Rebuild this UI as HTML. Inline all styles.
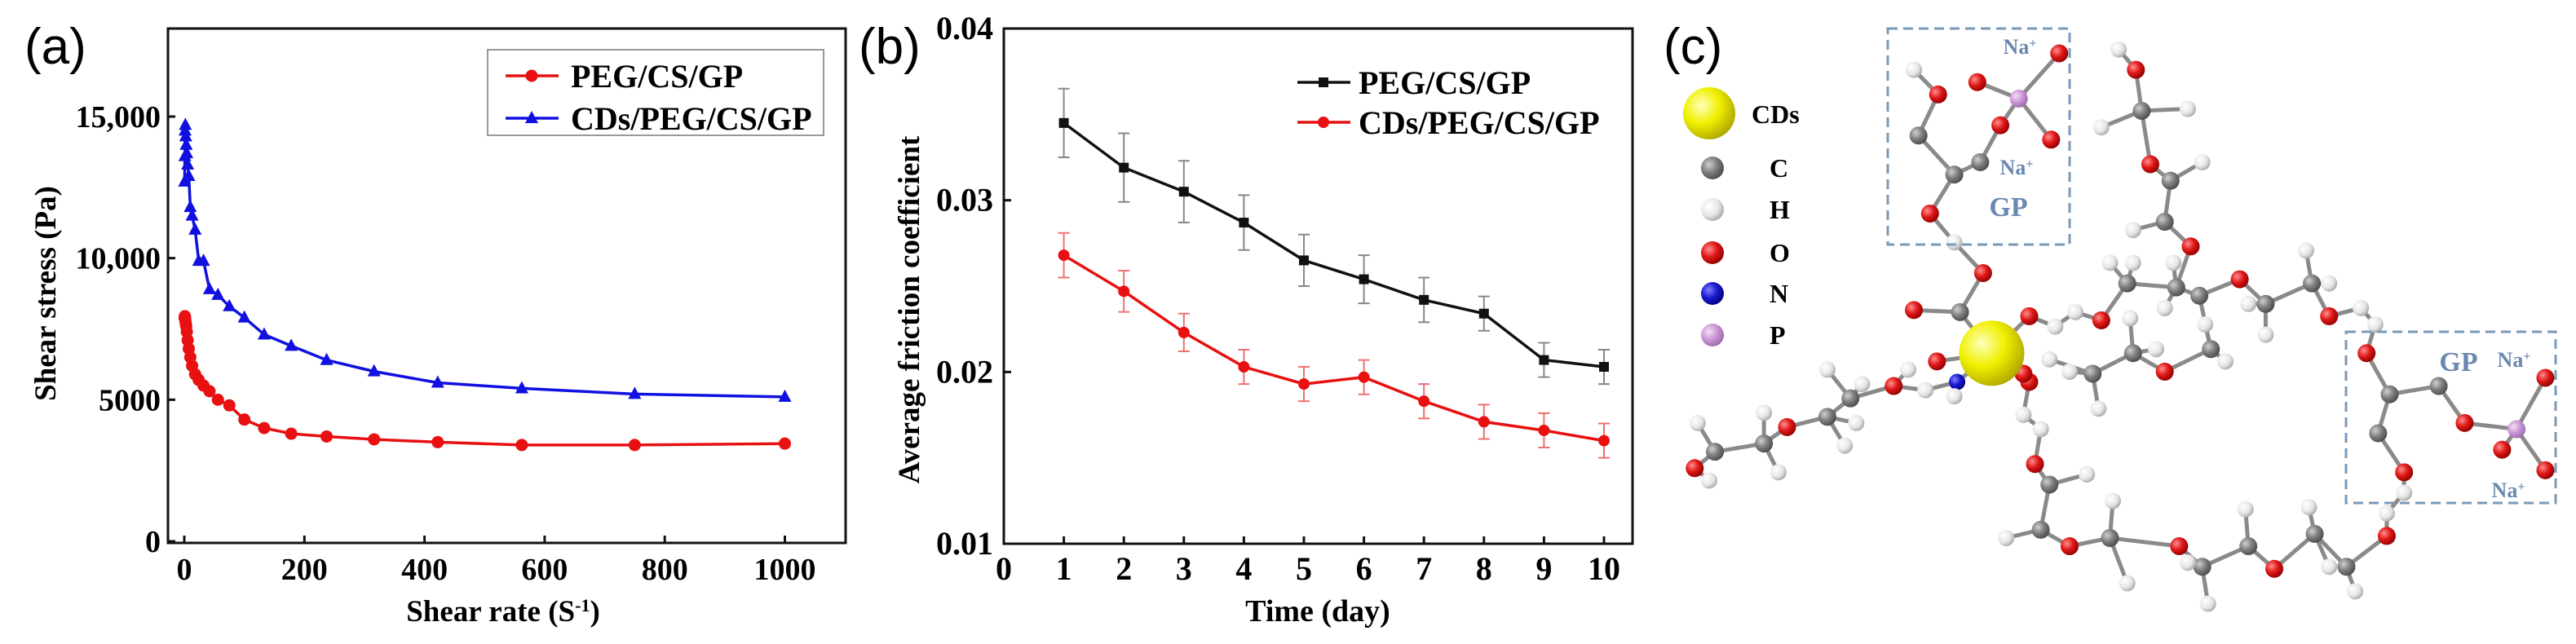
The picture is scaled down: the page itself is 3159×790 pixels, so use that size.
<!DOCTYPE html>
<html><head><meta charset="utf-8">
<style>
html,body{margin:0;padding:0;background:#fff;}
#root{position:relative;width:3159px;height:790px;overflow:hidden;background:#fff;}
svg text{font-family:"Liberation Serif",serif;font-weight:bold;}
.lbl{font-family:"Liberation Sans",sans-serif !important;font-weight:normal !important;}
</style></head>
<body>
<div id="root">
<svg id="svg" width="3159" height="790" viewBox="0 0 3159 790" xmlns="http://www.w3.org/2000/svg">
<defs>
<radialGradient id="gC" cx="35%" cy="35%" r="70%"><stop offset="0" stop-color="#d0d0d0"/><stop offset="0.5" stop-color="#808080"/><stop offset="1" stop-color="#4a4a4a"/></radialGradient>
<radialGradient id="gH" cx="35%" cy="35%" r="70%"><stop offset="0" stop-color="#ffffff"/><stop offset="0.6" stop-color="#e6e6e6"/><stop offset="1" stop-color="#a8a8a8"/></radialGradient>
<radialGradient id="gO" cx="35%" cy="35%" r="70%"><stop offset="0" stop-color="#ff9090"/><stop offset="0.5" stop-color="#e01818"/><stop offset="1" stop-color="#900000"/></radialGradient>
<radialGradient id="gN" cx="35%" cy="35%" r="70%"><stop offset="0" stop-color="#8080ff"/><stop offset="0.5" stop-color="#1a1ad0"/><stop offset="1" stop-color="#000080"/></radialGradient>
<radialGradient id="gP" cx="35%" cy="35%" r="70%"><stop offset="0" stop-color="#f4e0f4"/><stop offset="0.5" stop-color="#cc99d8"/><stop offset="1" stop-color="#9a6aa8"/></radialGradient>
<radialGradient id="gY" cx="35%" cy="35%" r="70%"><stop offset="0" stop-color="#ffffc0"/><stop offset="0.5" stop-color="#f0f000"/><stop offset="1" stop-color="#b0a800"/></radialGradient>
</defs>
</svg>
</div>
<script>
// ---------- Panel (a) data ----------
const aRateRed = [1000,750,562,422,316,237,178,133,100,75,56,42,32,24,18,13,10,7.5,5.6,4.2,3.2,2.4,1.8,1.3,1.0,0.5];
const aStressRed = [3450,3400,3400,3500,3600,3700,3800,4000,4300,4800,5000,5300,5500,5700,5900,6200,6500,6800,7100,7400,7600,7700,7800,7900,7950,7900];
const aRateBlue = [1000,750,562,422,316,237,178,133,100,75,56,42,32,24,18,13,10,7.5,5.6,4.2,3.2,2.4,1.8,1.3,1.0,0.5];
const aStressBlue = [5100,5200,5400,5600,6000,6400,6900,7300,7900,8300,8700,8900,9900,9900,11000,11500,11800,12900,13300,13700,14000,14300,14700,14500,13600,12700];
const aXTicks = [0,200,400,600,800,1000];
const aYTicks = [0,5000,10000,15000];
const aYTickLabels = ["0","5000","10,000","15,000"];
// ---------- Panel (b) data ----------
const bDays = [1,2,3,4,5,6,7,8,9,10];
const bBlack = [0.0345,0.0319,0.0305,0.0287,0.0265,0.0254,0.0242,0.0234,0.0207,0.0203];
const bBlackErr = [0.0020,0.0020,0.0018,0.0016,0.0015,0.0014,0.0013,0.0010,0.0010,0.0010];
const bRed = [0.0268,0.0247,0.0223,0.0203,0.0193,0.0197,0.0183,0.0171,0.0166,0.0160];
const bRedErr = [0.0013,0.0012,0.0011,0.0010,0.0010,0.0010,0.0010,0.0010,0.0010,0.0010];
const bXTicks = [0,1,2,3,4,5,6,7,8,9,10];
const bYTicks = [0.01,0.02,0.03,0.04];
const bYTickLabels = ["0.01","0.02","0.03","0.04"];

const NS="http://www.w3.org/2000/svg";
const svg=document.getElementById('svg');
function mk(tag,attrs,parent){const e=document.createElementNS(NS,tag);for(const k in attrs)e.setAttribute(k,attrs[k]);(parent||svg).appendChild(e);return e;}
function txt(s,attrs,parent){const e=mk('text',attrs,parent);e.textContent=s;return e;}

// ===== Panel a =====
const A={l:206,r:1037,t:35,b:666};
const ax=v=>226+(v/1000)*(962.5-226);
const ay=v=>664-(v/15000)*(664-143);
let g=mk('g',{});


let lab=txt('(a)',{x:30,y:78,'font-size':62,class:'lbl'},g);


let fr=mk('rect',{x:A.l,y:A.t,width:A.r-A.l,height:A.b-A.t,fill:'none',stroke:'#111','stroke-width':3},g);


aXTicks.forEach(v=>{
  const t=mk('line',{x1:ax(v),x2:ax(v),y1:A.b,y2:A.b-9,stroke:'#111','stroke-width':3},g);
  
  
  const l=txt(String(v),{x:ax(v),y:711,'font-size':38,'text-anchor':'middle'},g);
  
  
});
aYTicks.forEach((v,i)=>{
  const t=mk('line',{x1:A.l,x2:A.l+9,y1:ay(v),y2:ay(v),stroke:'#111','stroke-width':3},g);
  
  
  const l=txt(aYTickLabels[i],{x:197,y:ay(v)+13,'font-size':38,'text-anchor':'end'},g);
  
  
});
let xt=txt('',{x:617,y:762,'font-size':37,'text-anchor':'middle'},g);
xt.innerHTML='Shear rate (S<tspan baseline-shift="super" font-size="22">-1</tspan>)';


let yt=txt('Shear stress (Pa)',{x:0,y:0,'font-size':37,'text-anchor':'middle',transform:'translate(68,360) rotate(-90)'},g);


function series(xs,ys,fx,fy,color,name,parent){
  const pts=xs.map((x,i)=>fx(x).toFixed(1)+','+fy(ys[i]).toFixed(1)).join(' ');
  const p=mk('polyline',{points:pts,fill:'none',stroke:color,'stroke-width':3.5},parent);
  
  
}
series(aRateRed,aStressRed,ax,ay,'#e81010','series-peg-cs-gp',g);
aRateRed.forEach((x,i)=>{
  const c=mk('circle',{cx:ax(x),cy:ay(aStressRed[i]),r:7.5,fill:'#e81010'},g);
  
  
});
series(aRateBlue,aStressBlue,ax,ay,'#1010e0','series-cds-peg-cs-gp',g);
aRateBlue.forEach((x,i)=>{
  const X=ax(x),Y=ay(aStressBlue[i]);
  const c=mk('polygon',{points:`${X},${Y-9} ${X-8},${Y+6} ${X+8},${Y+6}`,fill:'#1010e0'},g);
  
  
});
let lg=mk('g',{},g);


mk('rect',{x:598,y:61,width:412,height:105,fill:'#fff',stroke:'#999','stroke-width':2},lg);
mk('line',{x1:620,x2:685,y1:93,y2:93,stroke:'#e81010','stroke-width':3.5},lg);
mk('circle',{cx:652,cy:93,r:7.5,fill:'#e81010'},lg);
let le=txt('PEG/CS/GP',{x:700,y:107,'font-size':40},lg);


mk('line',{x1:620,x2:685,y1:145,y2:145,stroke:'#1010e0','stroke-width':3.5},lg);
mk('polygon',{points:'652,136 644,151 660,151',fill:'#1010e0'},lg);
le=txt('CDs/PEG/CS/GP',{x:700,y:159,'font-size':40},lg);



// ===== Panel b =====
const B={l:1231,r:2002,t:35,b:667};
const bx=v=>1231+v*73.6;
const by=v=>667-(v-0.01)/0.03*(667-35);
g=mk('g',{});


lab=txt('(b)',{x:1053,y:78,'font-size':62,class:'lbl'},g);


fr=mk('rect',{x:B.l,y:B.t,width:B.r-B.l,height:B.b-B.t,fill:'none',stroke:'#111','stroke-width':3},g);


bXTicks.forEach(v=>{
  if(v>0){const t=mk('line',{x1:bx(v),x2:bx(v),y1:B.b,y2:B.b-9,stroke:'#111','stroke-width':3},g);
  
  }
  const l=txt(String(v),{x:bx(v),y:711,'font-size':40,'text-anchor':'middle'},g);
  
  
});
bYTicks.forEach((v,i)=>{
  const t=mk('line',{x1:B.l,x2:B.l+9,y1:by(v),y2:by(v),stroke:'#111','stroke-width':3},g);
  
  
  const l=txt(bYTickLabels[i],{x:1218,y:by(v)+(i==3?13:13),'font-size':40,'text-anchor':'end'},g);
  
  
});
xt=txt('Time (day)',{x:1616,y:762,'font-size':38,'text-anchor':'middle'},g);


yt=txt('Average friction coefficient',{x:0,y:0,'font-size':37,'text-anchor':'middle',transform:'translate(1127,380) rotate(-90)'},g);


function errbars(vals,errs,color,name){
  bDays.forEach((d,i)=>{
    const X=bx(d),y1=by(vals[i]+errs[i]),y2=by(vals[i]-errs[i]);
    const e=mk('path',{d:`M${X},${y1}V${y2}M${X-7},${y1}H${X+7}M${X-7},${y2}H${X+7}`,stroke:color,'stroke-width':2,fill:'none'},g);
    
    
  });
}
errbars(bBlack,bBlackErr,'#888','peg-cs-gp');
errbars(bRed,bRedErr,'#f07070','cds-peg-cs-gp');
series(bDays,bBlack,bx,by,'#111','series-b-peg-cs-gp',g);
bDays.forEach((d,i)=>{
  const s=mk('rect',{x:bx(d)-6,y:by(bBlack[i])-6,width:12,height:12,fill:'#111'},g);
  
  
});
series(bDays,bRed,bx,by,'#e81010','series-b-cds-peg-cs-gp',g);
bDays.forEach((d,i)=>{
  const c=mk('circle',{cx:bx(d),cy:by(bRed[i]),r:7,fill:'#e81010'},g);
  
  
});
lg=mk('g',{},g);


mk('line',{x1:1591,x2:1656,y1:101,y2:101,stroke:'#111','stroke-width':3.5},lg);
mk('rect',{x:1617,y:95,width:12,height:12,fill:'#111'},lg);
le=txt('PEG/CS/GP',{x:1666,y:115,'font-size':40},lg);


mk('line',{x1:1591,x2:1656,y1:150,y2:150,stroke:'#e81010','stroke-width':3.5},lg);
mk('circle',{cx:1623,cy:150,r:7,fill:'#e81010'},lg);
le=txt('CDs/PEG/CS/GP',{x:1666,y:164,'font-size':40},lg);



// ===== Panel c (molecule illustration) =====
g=mk('g',{});


lab=txt('(c)',{x:2040,y:78,'font-size':62,class:'lbl'},g);


const P=(zx,zy)=>[2050+zx/1.414, zy/1.985];
const fills={C:'url(#gC)',H:'url(#gH)',O:'url(#gO)',N:'url(#gN)',P:'url(#gP)',Y:'url(#gY)'};
const rad={C:11,H:10,O:11,N:10,P:11,Y:40};
// chains: sequences of [type,zx,zy]
const chains=[
 [['H',420,170],['O',462,230],['C',428,330],['C',490,425],['O',448,520],['H',490,590],['O',540,665],['C',500,760],['Y',555,860]],
 [['C',490,425],['C',535,395],['O',570,305],['P',602,240],['O',672,130]],
 [['P',602,240],['O',530,200]],[['P',602,240],['O',658,340]],
 [['C',500,760],['O',420,755]],
 [['Y',555,860],['O',620,770],['H',665,795],['H',700,760],['O',745,780],['C',790,690],['C',875,700],['O',900,600],['C',855,540],['C',865,440],['O',830,400],['C',815,270],['O',805,170],['H',775,120]],
 [['C',815,270],['H',745,310]],[['C',815,270],['H',895,265]],[['C',865,440],['H',920,395]],[['C',855,540],['H',800,560]],
 [['C',790,690],['H',760,640]],[['C',790,690],['H',800,640]],
 [['C',875,700],['C',915,720],['O',985,680],['C',1030,740],['C',1110,690],['O',1140,770],['H',1195,750],['H',1220,790],['O',1205,860],['C',1245,960],['C',1330,940],['O',1375,1030],['P',1465,1045],['O',1515,920]],
 [['C',1030,740],['H',1000,740]],[['C',1030,740],['H',1030,815]],[['C',1110,690],['H',1100,610]],[['C',1110,690],['H',1140,690]],
 [['P',1465,1045],['O',1440,1095]],[['P',1465,1045],['O',1515,1145]],
 [['C',1245,960],['C',1225,1055],['O',1270,1150],['H',1270,1200],['H',1240,1250],['O',1240,1305],['C',1170,1380],['C',1115,1300],['O',1045,1385],['C',1000,1330],['C',920,1380],['O',880,1330],['C',760,1310],['O',690,1330],['C',640,1290],['C',655,1180],['O',630,1130],['H',640,1045],['H',610,1010],['O',620,930],['Y',555,860]],
 [['C',1170,1380],['H',1185,1440]],[['C',1115,1300],['H',1105,1235]],[['C',1115,1300],['H',1140,1380]],[['C',1000,1330],['H',995,1240]],
 [['C',920,1380],['H',895,1370]],[['C',920,1380],['H',930,1470]],[['C',760,1310],['H',765,1220]],[['C',760,1310],['H',790,1420]],
 [['C',640,1290],['H',580,1310]],[['C',655,1180],['H',720,1155]],
 [['C',915,720],['C',935,850],['O',855,905],['C',800,860],['C',730,910],['H',655,875]],
 [['C',935,850],['H',960,880]],[['C',935,850],['H',925,790]],[['C',800,860],['H',795,775]],[['C',800,860],['H',840,850]],[['C',730,910],['H',690,905]],[['C',730,910],['H',740,995]],
 [['C',875,700],['H',855,750]],[['C',875,700],['H',870,640]],
 [['Y',555,860],['O',460,880]],[['Y',555,860],['N',495,930],['H',490,965]],[['N',495,930],['H',440,950],['O',385,940],['C',310,970],['C',270,1015],['O',200,1040],['C',160,1080],['C',75,1100],['O',40,1140],['H',65,1170]],
 [['O',385,940],['H',410,900]],[['C',310,970],['H',270,900]],[['C',310,970],['H',330,935]],[['C',270,1015],['H',320,1030]],[['C',270,1015],['H',300,1085]],
 [['C',160,1080],['H',160,1005]],[['C',160,1080],['H',185,1150]],[['C',75,1100],['H',45,1030]],
 [['Y',555,860],['O',610,910]]
];
const bondsG=mk('g',{},g);


const atomsG=mk('g',{},g);


const seen={};
const atoms=[];
chains.forEach(ch=>{
  for(let i=0;i<ch.length;i++){
    const [t,zx,zy]=ch[i];const [X,Y]=P(zx,zy);
    if(i>0){const [X0,Y0]=P(ch[i-1][1],ch[i-1][2]);
      mk('line',{x1:X0,y1:Y0,x2:X,y2:Y,stroke:'#8a8a8a','stroke-width':5},bondsG);}
    const key=zx+','+zy;
    if(!seen[key]){seen[key]=1;atoms.push([t,X,Y]);}
  }
});
atoms.sort((a,b)=>(a[0]==='Y')-(b[0]==='Y'));
atoms.forEach(([t,X,Y])=>{
  const c=mk('circle',{cx:X,cy:Y,r:rad[t],fill:fills[t]},atomsG);
  
  
});
// dashed GP boxes
[[2315,35,223,265],[2877,407,257,210]].forEach(b=>{
  const r=mk('rect',{x:b[0],y:b[1],width:b[2],height:b[3],fill:'none',stroke:'#7a9ab8','stroke-width':3,'stroke-dasharray':'12 7'},g);
  
  
});
const blueT=[['GP',2463,265,34],['Na',2477,66,26],['Na',2473,214,26],['GP',3015,455,34],['Na',3083,450,26],['Na',3076,610,26]];
blueT.forEach(([s,x,y,fs])=>{
  const t=txt('',{x:x,y:y,'font-size':fs,fill:'#6a88b0','text-anchor':'middle'},g);
  if(s==='Na'){t.innerHTML='Na<tspan baseline-shift="super" font-size="16">+</tspan>';}else t.textContent=s;
  
  
});
// legend c
lg=mk('g',{},g);


mk('circle',{cx:2096,cy:139,r:32,fill:'url(#gY)'},lg);
le=txt('CDs',{x:2148,y:151,'font-size':32},lg);


[['C',206],['H',257],['O',310],['N',360],['P',411]].forEach(([t,y])=>{
  mk('circle',{cx:2100,cy:y,r:14,fill:fills[t]},lg);
  const l=txt(t,{x:2170,y:y+11,'font-size':32},lg);
  
  
});
</script>
</body></html>
